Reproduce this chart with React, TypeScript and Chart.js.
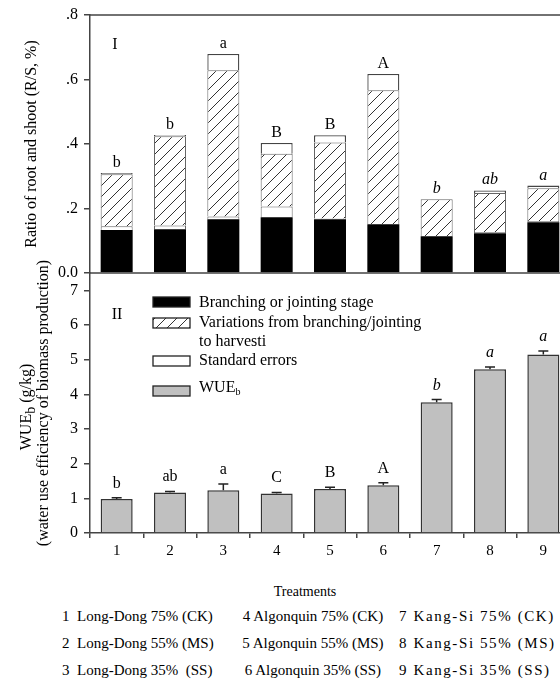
import React, { useEffect, useRef } from 'react';
import { Chart, registerables } from 'chart.js';
Chart.register(...registerables);

const FONT = "'Liberation Serif', 'Times New Roman', serif";

const treatments = ['1', '2', '3', '4', '5', '6', '7', '8', '9'];
// Panel I: root/shoot ratio segments
const branchingStage = [0.133, 0.136, 0.167, 0.173, 0.167, 0.151, 0.114, 0.123, 0.157];
const lowerError = [0.012, 0.011, 0.008, 0.033, 0.002, 0, 0, 0.004, 0.004];
const variation = [0.161, 0.277, 0.454, 0.164, 0.236, 0.416, 0.115, 0.121, 0.102];
const upperError = [0.004, 0.004, 0.05, 0.033, 0.022, 0.05, 0, 0.008, 0.008];
const rsLetters = ['b', 'b', 'a', 'B', 'B', 'A', 'b', 'ab', 'a'];
const rsTickLabels = ['0.0', '.2', '.4', '.6', '.8'];
// Panel II: WUEb
const wueValues = [0.98, 1.17, 1.23, 1.14, 1.27, 1.38, 3.77, 4.72, 5.15];
const wueErrors = [0.04, 0.03, 0.18, 0.03, 0.05, 0.07, 0.08, 0.07, 0.1];
const wueLetters = ['b', 'ab', 'a', 'C', 'B', 'A', 'b', 'a', 'a'];
const italicLetters = [false, false, false, false, false, false, true, true, true];
const treatmentCol1 = ['1  Long-Dong 75% (CK)', '2  Long-Dong 55% (MS)', '3  Long-Dong 35%  (SS)'];
const treatmentCol2 = ['4 Algonquin 75% (CK)', '5 Algonquin 55% (MS)', '6 Algonquin 35% (SS)'];
const treatmentCol3 = ['7 Kang-Si 75% (CK)', '8 Kang-Si 55% (MS)', '9 Kang-Si 35% (SS)'];

function makeHatch(ctx: CanvasRenderingContext2D) {
  const size = 11;
  const c = document.createElement('canvas');
  c.width = size;
  c.height = size;
  const g = c.getContext('2d')!;
  g.fillStyle = '#fff';
  g.fillRect(0, 0, size, size);
  g.strokeStyle = '#333';
  g.lineWidth = 1;
  g.beginPath();
  g.moveTo(0, size);
  g.lineTo(size, 0);
  g.moveTo(-1, 1);
  g.lineTo(1, -1);
  g.moveTo(size - 1, size + 1);
  g.lineTo(size + 1, size - 1);
  g.stroke();
  return ctx.createPattern(c, 'repeat')!;
}

function drawWUE(ctx: CanvasRenderingContext2D, x: number, y: number, big: number, small: number, rest: string, align: 'left' | 'center') {
  ctx.font = `${big}px ${FONT}`;
  const w1 = ctx.measureText('WUE').width;
  const w3 = ctx.measureText(rest).width;
  ctx.font = `${small}px ${FONT}`;
  const w2 = ctx.measureText('b').width;
  const sx = align === 'center' ? x - (w1 + w2 + w3) / 2 : x;
  ctx.textAlign = 'left';
  ctx.font = `${big}px ${FONT}`;
  ctx.fillText('WUE', sx, y);
  ctx.font = `${small}px ${FONT}`;
  ctx.fillText('b', sx + w1, y + big * 0.25);
  ctx.font = `${big}px ${FONT}`;
  ctx.fillText(rest, sx + w1 + w2, y);
}

export default function App() {
  const topRef = useRef<HTMLCanvasElement>(null);
  const botRef = useRef<HTMLCanvasElement>(null);

  useEffect(() => {
    const topCtx = topRef.current!.getContext('2d')!;
    const botCtx = botRef.current!.getContext('2d')!;
    const hatchTop = makeHatch(topCtx);
    const hatchBot = makeHatch(botCtx);

    const topDecor = {
      id: 'topDecor',
      afterDatasetsDraw(chart: any) {
        const { ctx, chartArea: a, scales } = chart;
        ctx.save();
        ctx.strokeStyle = '#444';
        ctx.lineWidth = 1.5;
        ctx.beginPath();
        ctx.moveTo(a.left, a.top);
        ctx.lineTo(a.right, a.top);
        ctx.lineTo(a.right, a.bottom);
        ctx.moveTo(a.left, a.bottom);
        ctx.lineTo(a.right, a.bottom);
        ctx.stroke();
        ctx.fillStyle = '#000';
        ctx.textAlign = 'center';
        ctx.textBaseline = 'alphabetic';
        const meta = chart.getDatasetMeta(0);
        treatments.forEach((_, i) => {
          const total = branchingStage[i] + lowerError[i] + variation[i] + upperError[i];
          const x = meta.data[i].x;
          const y = scales.y.getPixelForValue(total);
          ctx.font = `${italicLetters[i] ? 'italic ' : ''}16px ${FONT}`;
          ctx.fillText(rsLetters[i], x, y - 6);
        });
        ctx.font = `16px ${FONT}`;
        ctx.textBaseline = 'middle';
        ctx.fillText('I', a.left + 25, a.top + 30);
        ctx.translate(32, (a.top + a.bottom) / 2);
        ctx.rotate(-Math.PI / 2);
        ctx.fillText('Ratio of root and shoot (R/S, %)', 0, 0);
        ctx.restore();
      },
    };

    const botDecor = {
      id: 'botDecor',
      afterDatasetsDraw(chart: any) {
        const { ctx, chartArea: a, scales } = chart;
        const meta = chart.getDatasetMeta(0);
        ctx.save();
        // error bars
        ctx.strokeStyle = '#222';
        ctx.lineWidth = 1.5;
        treatments.forEach((_, i) => {
          const x = meta.data[i].x;
          const y0 = scales.y.getPixelForValue(wueValues[i]);
          const y1 = scales.y.getPixelForValue(wueValues[i] + wueErrors[i]);
          ctx.beginPath();
          ctx.moveTo(x, y0);
          ctx.lineTo(x, y1);
          ctx.moveTo(x - 5, y1);
          ctx.lineTo(x + 5, y1);
          ctx.stroke();
        });
        // letters
        ctx.fillStyle = '#000';
        ctx.textAlign = 'center';
        ctx.textBaseline = 'alphabetic';
        treatments.forEach((_, i) => {
          const x = meta.data[i].x;
          const y1 = scales.y.getPixelForValue(wueValues[i] + wueErrors[i]);
          ctx.font = `${italicLetters[i] ? 'italic ' : ''}16px ${FONT}`;
          ctx.fillText(wueLetters[i], x, y1 - 10);
        });
        ctx.font = `16px ${FONT}`;
        ctx.textBaseline = 'middle';
        ctx.fillText('II', a.left + 27, a.top + 42);
        // legend
        const sx = a.left + 63;
        const sw = 37;
        const sh = 10;
        const swatches = [
          { y: 24, fill: '#000' },
          { y: 45, fill: hatchBot },
          { y: 83, fill: '#fff' },
          { y: 113, fill: '#c0c0c0' },
        ];
        ctx.strokeStyle = '#222';
        ctx.lineWidth = 1.3;
        swatches.forEach((s) => {
          ctx.fillStyle = s.fill as any;
          ctx.fillRect(sx, a.top + s.y, sw, sh);
          ctx.strokeRect(sx, a.top + s.y, sw, sh);
        });
        ctx.fillStyle = '#000';
        ctx.textAlign = 'left';
        ctx.font = `16px ${FONT}`;
        const tx = a.left + 109;
        ctx.fillText('Branching or jointing stage', tx, a.top + 30);
        ctx.fillText('Variations from branching/jointing', tx, a.top + 50);
        ctx.fillText('to harvesti', tx, a.top + 69);
        ctx.fillText('Standard errors', tx, a.top + 88);
        drawWUE(ctx, tx, a.top + 115, 16, 10, '', 'left');
        // axis title
        ctx.translate(0, (a.top + a.bottom) / 2);
        ctx.rotate(-Math.PI / 2);
        ctx.textBaseline = 'middle';
        drawWUE(ctx, -4, 27, 16, 14, ' (g/kg)', 'center');
        ctx.textAlign = 'center';
        ctx.font = `16px ${FONT}`;
        ctx.fillText('(water use efficiency of biomass production)', 0, 44);
        ctx.restore();
      },
    };

    const topChart = new Chart(topRef.current!, {
      type: 'bar',
      data: {
        labels: treatments,
        datasets: [
          { label: 'Branching or jointing stage', data: branchingStage, backgroundColor: '#000', borderColor: '#000', borderWidth: 0 },
          { label: 'Standard errors', data: lowerError, backgroundColor: '#fff', borderColor: '#666', borderWidth: 1 },
          { label: 'Variations from branching/jointing to harvesti', data: variation, backgroundColor: hatchTop as any, borderColor: '#666', borderWidth: 1 },
          { label: 'Standard errors', data: upperError, backgroundColor: '#fff', borderColor: '#444', borderWidth: 1.3 },
        ],
      },
      options: {
        responsive: false,
        animation: false,
        layout: { padding: { left: 0, right: 30, top: 25, bottom: 17 } },
        datasets: { bar: { categoryPercentage: 0.6, barPercentage: 1 } },
        plugins: { legend: { display: false }, tooltip: { enabled: false } },
        scales: {
          x: { display: false, stacked: true },
          y: {
            stacked: true,
            min: 0,
            max: 0.8,
            ticks: {
              stepSize: 0.2,
              callback: (_v: any, i: number) => rsTickLabels[i],
              font: { family: FONT, size: 16 },
              color: '#000',
              padding: 6,
            },
            grid: { drawOnChartArea: false, tickLength: 6, color: '#444', lineWidth: 1.5 },
            border: { color: '#444', width: 1.5 },
            afterFit: (s: any) => {
              s.width = 90;
            },
          },
        },
      },
      plugins: [topDecor],
    });

    const botChart = new Chart(botRef.current!, {
      type: 'bar',
      data: {
        labels: treatments,
        datasets: [
          { label: 'WUEb', data: wueValues, backgroundColor: '#c0c0c0', borderColor: '#333', borderWidth: 1.5 },
        ],
      },
      options: {
        responsive: false,
        animation: false,
        layout: { padding: { left: 0, right: 30, top: 20, bottom: 0 } },
        datasets: { bar: { categoryPercentage: 0.6, barPercentage: 1 } },
        plugins: { legend: { display: false }, tooltip: { enabled: false } },
        scales: {
          x: {
            ticks: { font: { family: FONT, size: 15 }, color: '#000', padding: 4 },
            grid: { drawOnChartArea: false, tickLength: 5, color: '#444', lineWidth: 1.5 },
            border: { color: '#444', width: 1.5 },
            afterFit: (s: any) => {
              s.height = 30;
            },
          },
          y: {
            min: 0,
            max: 7.5,
            ticks: {
              stepSize: 1,
              includeBounds: false,
              callback: (v: any) => String(v),
              font: { family: FONT, size: 16 },
              color: '#000',
              padding: 6,
            },
            grid: { drawOnChartArea: false, tickLength: 6, color: '#444', lineWidth: 1.5 },
            border: { color: '#444', width: 1.5 },
            afterFit: (s: any) => {
              s.width = 90;
            },
          },
        },
      },
      plugins: [botDecor],
    });

    return () => {
      topChart.destroy();
      botChart.destroy();
    };
  }, []);

  const rowTops = [606, 633, 660];
  const textStyle: React.CSSProperties = {
    position: 'absolute',
    fontSize: 15,
    lineHeight: '20px',
    whiteSpace: 'pre',
    color: '#000',
  };

  return (
    <div
      style={{
        position: 'absolute',
        left: 0,
        top: 0,
        width: 560,
        height: 684,
        overflow: 'hidden',
        background: '#fff',
        fontFamily: FONT,
      }}
    >
      <div style={{ position: 'absolute', left: 0, top: -10, width: 600, height: 300 }}>
        <canvas ref={topRef} width={600} height={300} style={{ display: 'block' }} />
      </div>
      <div style={{ position: 'absolute', left: 0, top: 253, width: 600, height: 310 }}>
        <canvas ref={botRef} width={600} height={310} style={{ display: 'block' }} />
      </div>
      <div style={{ ...textStyle, left: 205, width: 200, textAlign: 'center', top: 582, fontSize: 14 }}>Treatments</div>
      {treatmentCol1.map((t, i) => (
        <div key={'a' + i} style={{ ...textStyle, left: 62, top: rowTops[i] }}>{t}</div>
      ))}
      {treatmentCol2.map((t, i) => (
        <div key={'b' + i} style={{ ...textStyle, left: 213, width: 200, textAlign: 'center', top: rowTops[i] }}>{t}</div>
      ))}
      {treatmentCol3.map((t, i) => (
        <div key={'c' + i} style={{ ...textStyle, left: 399, top: rowTops[i], letterSpacing: '1.6px' }}>{t}</div>
      ))}
    </div>
  );
}
